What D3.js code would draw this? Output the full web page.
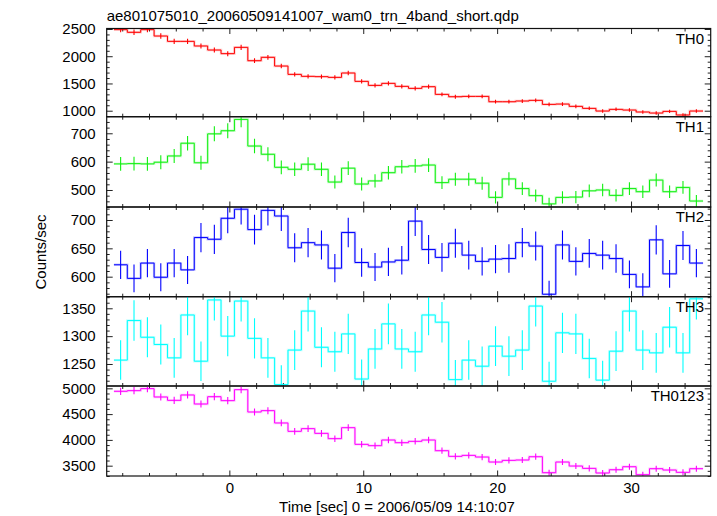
<!DOCTYPE html>
<html><head><meta charset="utf-8">
<script src="https://cdn.jsdelivr.net/npm/d3@7"></script>
<style>
html,body{margin:0;padding:0;background:#fff;}
text{font-family:"Liberation Sans",Arial,Helvetica,sans-serif;fill:#000;}
</style></head>
<body><svg id="c" width="717" height="516"></svg>
<script>
const title = "ae801075010_20060509141007_wam0_trn_4band_short.qdp";
const xLabel = "Time [sec] 0 = 2006/05/09 14:10:07";
const yLabel = "Counts/sec";
const binHalf = 0.5;
const times = [-8.12,-7.12,-6.12,-5.12,-4.12,-3.12,-2.12,-1.12,-0.12,0.88,1.88,2.88,3.88,4.88,5.88,6.88,7.88,8.88,9.88,10.88,11.88,12.88,13.88,14.88,15.88,16.88,17.88,18.88,19.88,20.88,21.88,22.88,23.88,24.88,25.88,26.88,27.88,28.88,29.88,30.88,31.88,32.88,33.88,34.88];

const th0 = [2488,2439,2488,2371,2273,2273,2188,2114,2047,2163,1918,1980,1820,1667,1631,1625,1612,1692,1539,1465,1502,1447,1410,1441,1300,1257,1263,1263,1165,1165,1178,1190,1116,1122,1080,1043,994,1025,1012,976,957,988,921,994];
const th0Err = [49.9,49.4,49.9,48.7,47.7,47.7,46.8,46.0,45.2,46.5,43.8,44.5,42.7,40.8,40.4,40.3,40.1,41.1,39.2,38.3,38.8,38.0,37.5,38.0,36.1,35.5,35.5,35.5,34.1,34.1,34.3,34.5,33.4,33.5,32.9,32.3,31.5,32.0,31.8,31.2,30.9,31.4,30.3,31.5];

const th1 = [592,593,592,598,620,665,596,698,709,749,655,626,580,573,591,573,528,577,521,532,561,582,585,588,526,538,538,524,474,539,505,480,451,474,475,497,500,481,505,494,535,494,509,461];
const th1Err = [24.3,24.4,24.3,24.5,24.9,25.8,24.4,26.4,26.6,27.4,25.6,25.0,24.1,23.9,24.3,23.9,23.0,24.0,22.8,23.1,23.7,24.1,24.2,24.2,22.9,23.2,23.2,22.9,21.8,23.2,22.5,21.9,21.2,21.8,21.8,22.3,22.4,21.9,22.5,22.2,23.1,22.2,22.6,21.5];

const th2 = [621,597,624,599,624,612,669,666,703,719,683,717,707,651,660,656,615,678,625,617,626,629,698,648,634,659,638,627,631,632,660,654,569,656,627,641,638,632,604,582,665,605,655,624];
const th2Err = [24.9,24.4,25.0,24.5,25.0,24.7,25.9,25.8,26.5,26.8,26.1,26.8,26.6,25.5,25.7,25.6,24.8,26.0,25.0,24.8,25.0,25.1,26.4,25.5,25.2,25.7,25.3,25.0,25.1,25.1,25.7,25.6,23.9,25.6,25.0,25.3,25.3,25.1,24.6,24.1,25.8,24.6,25.6,25.0];

const th3 = [1257,1328,1298,1285,1261,1338,1255,1365,1300,1363,1296,1261,1213,1275,1345,1280,1272,1304,1223,1277,1322,1277,1272,1338,1325,1222,1257,1246,1282,1264,1275,1354,1219,1306,1304,1260,1221,1273,1345,1275,1270,1316,1270,1367];
const th3Err = [35.5,36.4,36.0,35.8,35.5,36.6,35.4,36.9,36.1,36.9,36.0,35.5,34.8,35.7,36.7,35.8,35.7,36.1,35.0,35.7,36.4,35.7,35.7,36.6,36.4,35.0,35.5,35.3,35.8,35.6,35.7,36.8,34.9,36.1,36.1,35.5,34.9,35.7,36.7,35.7,35.6,36.3,35.6,37.0];

const th0123 = [4942,4955,4994,4832,4767,4871,4696,4838,4761,4974,4541,4567,4328,4166,4218,4127,4024,4237,3914,3888,3998,3946,3972,3998,3791,3681,3700,3668,3571,3603,3610,3674,3364,3571,3493,3448,3358,3422,3480,3325,3442,3416,3371,3442];
const th0123Err = [70.3,70.4,70.7,69.5,69.0,69.8,68.5,69.6,69.0,70.5,67.4,67.6,65.8,64.5,64.9,64.2,63.4,65.1,62.6,62.4,63.2,62.8,63.0,63.2,61.6,60.7,60.8,60.6,59.8,60.0,60.1,60.6,58.0,59.8,59.1,58.7,57.9,58.5,59.0,57.7,58.7,58.4,58.1,58.7];

const xTickLabels = [0,10,20,30];
const xMinorTicks = [-8,-6,-4,-2,0,2,4,6,8,10,12,14,16,18,20,22,24,26,28,30,32,34];

const panelNames = ["TH0","TH1","TH2","TH3","TH0123"];
const panelValues = [th0,th1,th2,th3,th0123];
const panelErrors = [th0Err,th1Err,th2Err,th3Err,th0123Err];
const panelDomains = [[890,2509],[440,758.5],[564.7,722.9],[1210.5,1370.8],[3300,5045]];
const panelMajor = [[1000,1500,2000,2500],[500,600,700],[600,650,700],[1250,1300,1350],[3500,4000,4500,5000]];
const panelMinorStep = [100,20,10,10,100];
const panelColors = ["#ff0000","#11f011","#0000ff","#00ffff","#ff00ff"];

// layout
const L = 106.7, R = 710.7;
const bounds = [28.5,116.7,207,296.7,386,476];
const svg = d3.select("#c");
const x = d3.scaleLinear().domain([-9.16,35.95]).range([L,R]);

svg.append("text").attr("x",L).attr("y",20.5).attr("font-size",15).text(title);

const defs = svg.append("defs");

panelNames.forEach((name,p)=>{
  const top = bounds[p], bot = bounds[p+1];
  const y = d3.scaleLinear().domain(panelDomains[p]).range([bot,top]);
  const g = svg.append("g");
  const cid = "clip"+p;
  defs.append("clipPath").attr("id",cid).append("rect")
    .attr("x",L).attr("y",top).attr("width",R-L).attr("height",bot-top);

  const dom = panelDomains[p];
  const minor = d3.range(Math.ceil(dom[0]/panelMinorStep[p])*panelMinorStep[p], dom[1]+1e-9, panelMinorStep[p])
    .filter(v=>!panelMajor[p].includes(v));
  const majorX = xMinorTicks.filter(v=>xTickLabels.includes(v));
  const minorX = xMinorTicks.filter(v=>!xTickLabels.includes(v));

  const tickStyle = sel=>{sel.select(".domain").remove();sel.selectAll("line").attr("stroke","#222").attr("stroke-width",1);sel.selectAll("text").remove();};
  g.append("g").attr("transform",`translate(0,${top})`).call(d3.axisBottom(x).tickValues(minorX).tickSize(3)).call(tickStyle);
  g.append("g").attr("transform",`translate(0,${top})`).call(d3.axisBottom(x).tickValues(majorX).tickSize(5.5)).call(tickStyle);
  g.append("g").attr("transform",`translate(0,${bot})`).call(d3.axisTop(x).tickValues(minorX).tickSize(3)).call(tickStyle);
  g.append("g").attr("transform",`translate(0,${bot})`).call(d3.axisTop(x).tickValues(majorX).tickSize(5.5)).call(tickStyle);
  g.append("g").attr("transform",`translate(${L},0)`).call(d3.axisRight(y).tickValues(minor).tickSize(3)).call(tickStyle);
  g.append("g").attr("transform",`translate(${L},0)`).call(d3.axisRight(y).tickValues(panelMajor[p]).tickSize(6)).call(tickStyle);
  g.append("g").attr("transform",`translate(${R},0)`).call(d3.axisLeft(y).tickValues(minor).tickSize(3)).call(tickStyle);
  g.append("g").attr("transform",`translate(${R},0)`).call(d3.axisLeft(y).tickValues(panelMajor[p]).tickSize(6)).call(tickStyle);

  const yl = g.append("g").attr("transform",`translate(${L},0)`)
    .call(d3.axisLeft(y).tickValues(panelMajor[p]).tickSize(0).tickPadding(11).tickFormat(d3.format("d")));
  yl.select(".domain").remove();
  yl.selectAll("text").attr("font-size",15).attr("font-family","Liberation Sans, Arial, sans-serif").attr("fill","#000");

  const vals = panelValues[p], errs = panelErrors[p], col = panelColors[p];
  const pts = times.map((t,i)=>[t-binHalf, vals[i]]);
  pts.push([times[times.length-1]+binHalf, vals[vals.length-1]]);
  const line = d3.line().x(d=>x(d[0])).y(d=>y(d[1])).curve(d3.curveStepAfter);
  const dg = g.append("g").attr("clip-path",`url(#${cid})`);
  dg.append("path").attr("d",line(pts)).attr("fill","none").attr("stroke",col).attr("stroke-opacity",0.22).attr("stroke-width",2.4);
  dg.append("path").attr("d",line(pts)).attr("fill","none").attr("stroke",col).attr("stroke-width",1);
  dg.selectAll("line.err").data(times).join("line").attr("class","err")
    .attr("x1",t=>x(t)).attr("x2",t=>x(t))
    .attr("y1",(t,i)=>y(vals[i]-errs[i])).attr("y2",(t,i)=>y(vals[i]+errs[i]))
    .attr("stroke",col).attr("stroke-width",1.1);

  g.append("rect").attr("x",L).attr("y",top).attr("width",R-L).attr("height",bot-top)
    .attr("fill","none").attr("stroke","#111").attr("stroke-width",1.2);

  g.append("text").attr("x",704).attr("y",top+15).attr("text-anchor","end").attr("font-size",15).text(name);

  if(p===panelNames.length-1){
    const xl = g.append("g").attr("transform",`translate(0,${bot})`)
      .call(d3.axisBottom(x).tickValues(xTickLabels).tickSize(0).tickPadding(6.5));
    xl.select(".domain").remove();
    xl.selectAll("text").attr("font-size",15).attr("font-family","Liberation Sans, Arial, sans-serif").attr("fill","#000");
  }
});

svg.append("text").attr("x",397).attr("y",511.5).attr("text-anchor","middle").attr("font-size",15).text(xLabel);
svg.append("text").attr("transform",`translate(45.5,252) rotate(-90)`).attr("text-anchor","middle").attr("font-size",15).text(yLabel);
</script></body></html>
